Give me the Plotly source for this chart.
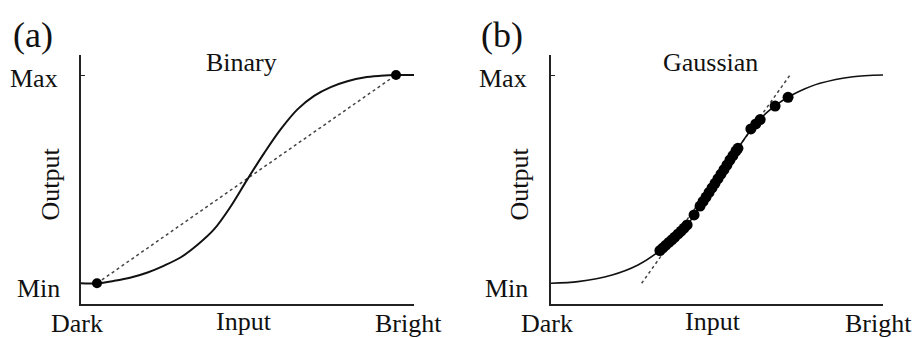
import plotly.graph_objects as go

# ---- data (Input: Dark=0 .. Bright=100, Output: Min=0 .. Max=100) ----
binary_curve_x = [0, 4.8, 10, 15, 20, 25, 30, 35, 40, 45, 50, 55, 60, 65, 70, 75, 80, 85, 90, 94.6, 100]
binary_curve_y = [0, 0, 1.2, 2.8, 5.2, 8.5, 12.5, 18.5, 26.0, 37.0, 50.0, 62.5, 74.0, 83.5, 90.0, 94.2, 97.0, 98.8, 99.6, 100, 100]
binary_line_x = [4.8, 94.6]
binary_line_y = [0, 100]
binary_pts_x = [4.8, 94.6]
binary_pts_y = [0, 100]

gauss_curve_x = [0, 8.1, 18.4, 26.2, 32.8, 37.3, 41.3, 44.9, 48.5, 52.4, 56.3, 59.3, 62.3, 65.4, 68.4, 71.4, 75.0, 81.0, 91.0, 100]
gauss_curve_y = [0, 0.8, 4.0, 8.8, 15.7, 22.2, 28.5, 37.1, 45.8, 55.4, 64.8, 71.7, 77.7, 82.5, 86.3, 89.3, 92.3, 96.0, 99.2, 100]
gauss_line_x = [27.3, 72.0]
gauss_line_y = [0, 100]
gauss_pts_x = [32.8, 33.7, 34.6, 35.5, 36.4, 37.3, 38.3, 39.2, 40.1, 41.0, 43.1, 44.9, 45.8, 46.7, 47.6,
               48.5, 49.4, 50.3, 51.2, 52.1, 53.0, 53.9, 54.8, 55.7, 56.3, 60.2, 61.7, 63.0, 67.5, 71.4]
gauss_pts_y = [15.7, 17.0, 18.3, 19.6, 20.9, 22.2, 23.7, 25.1, 26.5, 28.0, 32.8, 37.1, 39.3, 41.4, 43.6,
               45.8, 48.0, 50.2, 52.4, 54.6, 56.8, 59.2, 61.3, 63.5, 64.8, 74.1, 76.5, 78.6, 85.1, 89.3]

panel_labels = ["(a)", "(b)"]
panel_titles = ["Binary", "Gaussian"]
y_ticks = ["Min", "Max"]
x_ticks = ["Dark", "Input", "Bright"]
y_title = "Output"

W, H = 917, 338
FONT = "Liberation Serif"
INK = "#111111"

fig = go.Figure()

def px2x(p):
    return p / W

def px2y(p):
    return 1 - p / H

# panel a
fig.add_trace(go.Scatter(x=binary_line_x, y=binary_line_y, mode="lines",
                         line=dict(color="#444444", width=1.5, dash="dot"),
                         xaxis="x", yaxis="y", showlegend=False, hoverinfo="skip"))
fig.add_trace(go.Scatter(x=binary_curve_x, y=binary_curve_y, mode="lines",
                         line=dict(color=INK, width=2, shape="spline", smoothing=1),
                         xaxis="x", yaxis="y", showlegend=False))
fig.add_trace(go.Scatter(x=binary_pts_x, y=binary_pts_y, mode="markers",
                         marker=dict(color="black", size=10),
                         xaxis="x", yaxis="y", showlegend=False, cliponaxis=False))
# panel b
fig.add_trace(go.Scatter(x=gauss_line_x, y=gauss_line_y, mode="lines",
                         line=dict(color="#444444", width=1.5, dash="dot"),
                         xaxis="x2", yaxis="y2", showlegend=False, hoverinfo="skip"))
fig.add_trace(go.Scatter(x=gauss_curve_x, y=gauss_curve_y, mode="lines",
                         line=dict(color=INK, width=1.6, shape="spline", smoothing=0.8),
                         xaxis="x2", yaxis="y2", showlegend=False))
fig.add_trace(go.Scatter(x=gauss_pts_x, y=gauss_pts_y, mode="markers",
                         marker=dict(color="black", size=11),
                         xaxis="x2", yaxis="y2", showlegend=False))

ydom = [px2y(304), px2y(55)]
ymin = (283.3 - 304) / 2.083
ymax = (283.3 - 55) / 2.083

common_x = dict(range=[0, 100], showgrid=False, zeroline=False, showline=True,
                linecolor="#222222", linewidth=2, tickvals=[100], ticks="inside",
                ticklen=3, tickcolor="#222222", showticklabels=False, fixedrange=True)
common_y = dict(range=[ymin, ymax], domain=ydom, showgrid=False, zeroline=False, showline=True,
                linecolor="#222222", linewidth=2, tickvals=[100], ticks="inside",
                ticklen=4, tickcolor="#222222", showticklabels=False, fixedrange=True)

fig.update_layout(
    width=W, height=H, autosize=False,
    margin=dict(l=0, r=0, t=0, b=0),
    paper_bgcolor="white", plot_bgcolor="white",
    xaxis=dict(domain=[px2x(81), px2x(414)], anchor="y", **common_x),
    yaxis=dict(anchor="x", **common_y),
    xaxis2=dict(domain=[px2x(551), px2x(883)], anchor="y2", **common_x),
    yaxis2=dict(anchor="x2", **common_y),
)

ann = []

def text(t, x, y, size=26, xanchor="center", angle=0):
    ann.append(dict(text=t, x=px2x(x), y=px2y(y), xref="paper", yref="paper",
                    xanchor=xanchor, yanchor="middle", showarrow=False, textangle=angle,
                    font=dict(family=FONT, size=size, color=INK)))

layouts = [
    dict(lab=(32.5, 35), title=(241, 62), ymax=(60, 79), ymin=(62, 288), out=(50, 184.5),
         dark=(77, 323), inp=(243.5, 321), bright=(408, 323)),
    dict(lab=(502, 35), title=(710, 62), ymax=(529, 79), ymin=(530, 288), out=(519, 184.5),
         dark=(547, 323), inp=(713, 321), bright=(878, 323)),
]

for i, L in enumerate(layouts):
    text(panel_labels[i], *L["lab"], size=36)
    text(panel_titles[i], *L["title"])
    text(y_ticks[1], *L["ymax"], xanchor="right")
    text(y_ticks[0], *L["ymin"], xanchor="right")
    text(y_title, *L["out"], angle=-90)
    text(x_ticks[0], *L["dark"])
    text(x_ticks[1], *L["inp"])
    text(x_ticks[2], *L["bright"])

fig.update_layout(annotations=ann)
fig.write_html("out.html", config={"displayModeBar": False},
               post_script="document.body.style.margin='0px';document.body.style.overflow='hidden';")
